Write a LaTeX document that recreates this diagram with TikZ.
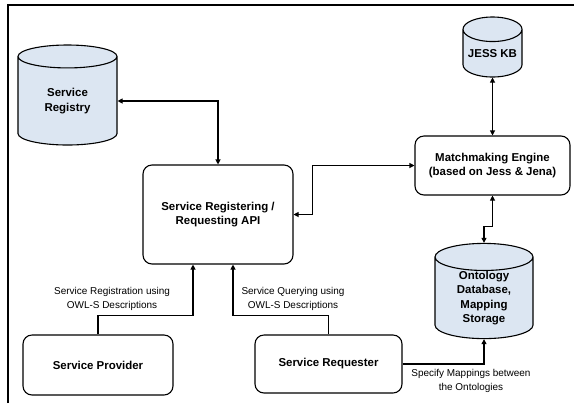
\documentclass[tikz,border=0pt]{standalone}
\usepackage{fontspec}
\setmainfont{Liberation Sans}
\usetikzlibrary{shapes.geometric,arrows.meta,calc}
\definecolor{dbfill}{RGB}{220,230,242}
\begin{document}
\begin{tikzpicture}[x=1bp,y=-1bp,
  every node/.style={inner sep=0pt},
  lw/.style={line width=1.1bp},
  boxfont/.style={font=\fontsize{11.5}{14.5}\selectfont\bfseries, align=center},
  lblfont/.style={font=\fontsize{10}{13.8}\selectfont, align=center},
  proc/.style={draw, lw, rounded corners=9bp, boxfont},
  db/.style={draw, lw, fill=dbfill, cylinder, shape border rotate=90, aspect=0.5, boxfont, anchor=shape center},
  arr/.style={lw, -{Triangle[length=5bp,width=5bp]}},
  biarr/.style={lw, {Triangle[length=5bp,width=5bp]}-{Triangle[length=5bp,width=5bp]}},
  frameline/.style={line width=1.1bp, draw=black}
]
\useasboundingbox (0,0) rectangle (574,403);
\draw[frameline] (8,403) -- (8,5) -- (574,5);

% nodes
\node[db, minimum width=99bp, minimum height=100bp] (sr) at (67.5,95) {Service\\Registry};
\node[db, minimum width=59bp, minimum height=60bp] (jess) at (492.5,47) {JESS KB};
\node[db, minimum width=98bp, minimum height=92bp] (odb) at (484,291) {Ontology\\Database,\\Mapping\\Storage};
\node[proc, minimum width=150bp, minimum height=99bp] (api) at (218,214.5) {Service Registering /\\Requesting API};
\node[proc, minimum width=155bp, minimum height=59bp] (me) at (492.5,165.5) {Matchmaking Engine\\(based on Jess \& Jena)};
\node[proc, minimum width=150bp, minimum height=60bp] (sp) at (98,365) {Service Provider};
\node[proc, minimum width=147bp, minimum height=58bp] (sq) at (328.5,364) {Service Requester};

% labels
\node[lblfont] (l1) at (112,299) {Service Registration using\\OWL-S Descriptions};
\node[lblfont] (l2) at (293,299) {Service Querying using\\OWL-S Descriptions};
\node[lblfont] (l3) at (471,381) {Specify Mappings between\\the Ontologies};

% connectors
\draw[biarr] (sr.east) -| (api.north);
\draw[biarr] (api.east) -- ++(19,0) |- (me.west);
\draw[biarr] (jess.south) -- (me.north);
\draw[biarr] (me.south) -- ++(0,31) -| (odb.north);
\draw[arr] (sp.north) -- ++(0,-19) -| ([xshift=-25bp]api.south);
\draw[arr] (sq.north) -- ++(0,-19) -| ([xshift=15bp]api.south);
\draw[arr] (sq.east) -| (odb.south);
\end{tikzpicture}
\end{document}
